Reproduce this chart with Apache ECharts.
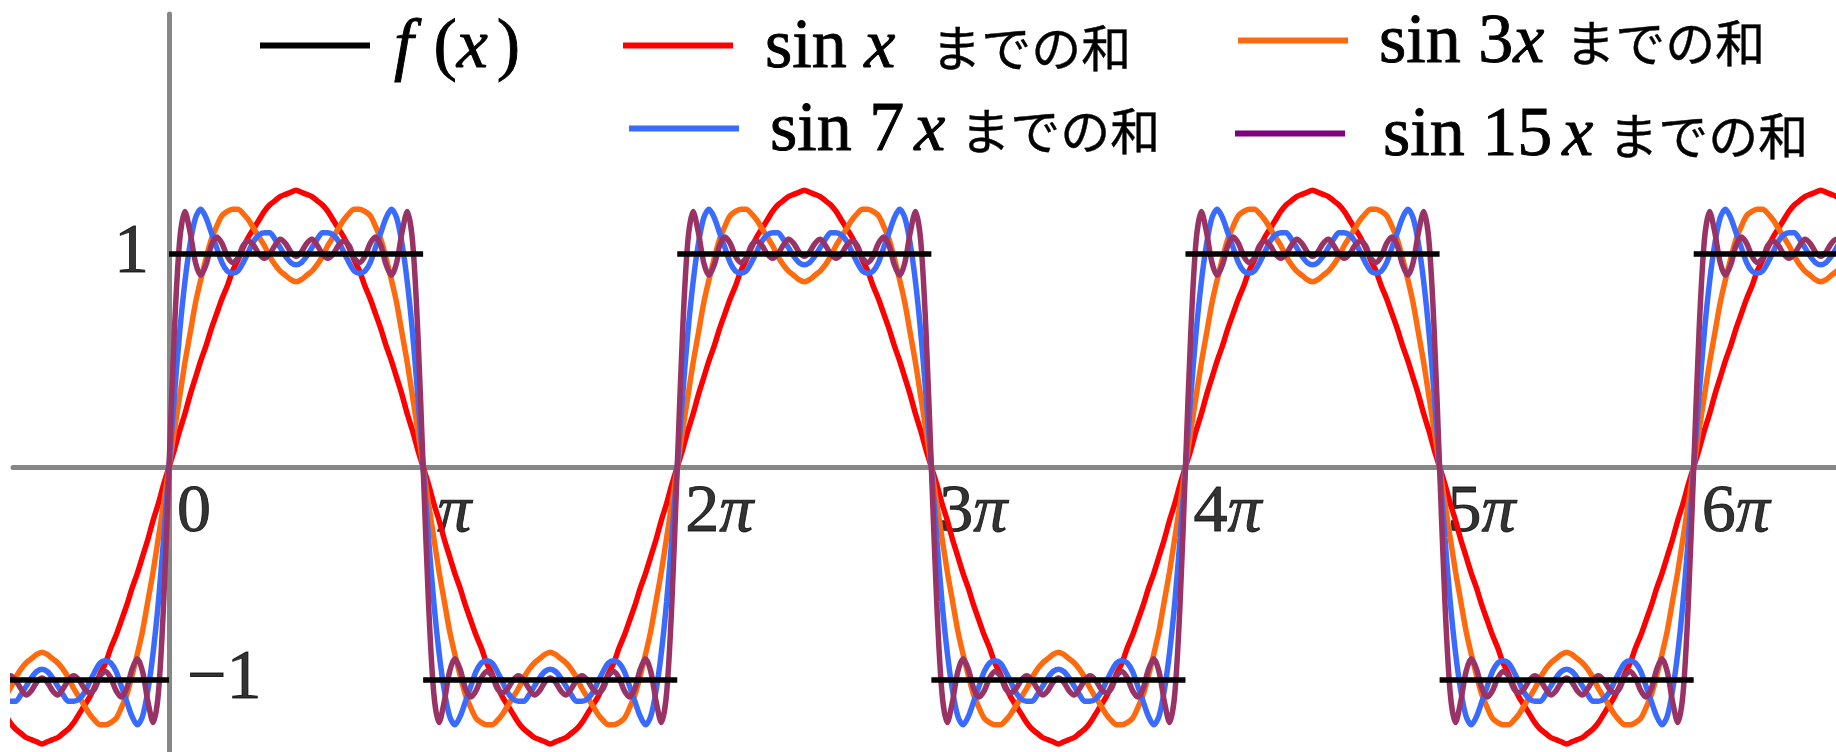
<!DOCTYPE html>
<html>
<head>
<meta charset="utf-8">
<script src="https://cdn.jsdelivr.net/npm/echarts@6/dist/echarts.min.js"></script>
<style>
  html, body { margin: 0; padding: 0; background: #ffffff; }
  #chart { width: 1836px; height: 752px; }
</style>
</head>
<body>
<div id="chart"></div>
<script>
// x is measured in units of π. Each partial sum is listed over one period
// (0 ≤ x < 2π) at samples spaced π/48 apart.
const SAMPLE_STEP = 1 / 48;

const sumToSin1 = [
  0, 0.08, 0.17, 0.25, 0.34, 0.42, 0.50, 0.57, 0.65, 0.72, 0.79, 0.85,
  0.92, 0.97, 1.03, 1.08, 1.12, 1.16, 1.20, 1.23, 1.25, 1.27, 1.28, 1.29,
  1.30, 1.29, 1.28, 1.27, 1.25, 1.23, 1.20, 1.16, 1.12, 1.08, 1.03, 0.97,
  0.92, 0.85, 0.79, 0.72, 0.65, 0.57, 0.50, 0.42, 0.34, 0.25, 0.17, 0.08,
  0, -0.08, -0.17, -0.25, -0.34, -0.42, -0.50, -0.57, -0.65, -0.72, -0.79, -0.85,
  -0.92, -0.97, -1.03, -1.08, -1.12, -1.16, -1.20, -1.23, -1.25, -1.27, -1.28, -1.29,
  -1.30, -1.29, -1.28, -1.27, -1.25, -1.23, -1.20, -1.16, -1.12, -1.08, -1.03, -0.97,
  -0.92, -0.85, -0.79, -0.72, -0.65, -0.57, -0.50, -0.42, -0.34, -0.25, -0.17, -0.08
];

const sumToSin3 = [
  0, 0.17, 0.33, 0.49, 0.63, 0.77, 0.88, 0.98, 1.07, 1.13, 1.18, 1.20,
  1.21, 1.21, 1.19, 1.16, 1.12, 1.08, 1.04, 0.99, 0.95, 0.92, 0.90, 0.88,
  0.87, 0.88, 0.90, 0.92, 0.95, 0.99, 1.04, 1.08, 1.12, 1.16, 1.19, 1.21,
  1.21, 1.20, 1.18, 1.13, 1.07, 0.98, 0.88, 0.77, 0.63, 0.49, 0.33, 0.17,
  0, -0.17, -0.33, -0.49, -0.63, -0.77, -0.88, -0.98, -1.07, -1.13, -1.18, -1.20,
  -1.21, -1.21, -1.19, -1.16, -1.12, -1.08, -1.04, -0.99, -0.95, -0.92, -0.90, -0.88,
  -0.87, -0.88, -0.90, -0.92, -0.95, -0.99, -1.04, -1.08, -1.12, -1.16, -1.19, -1.21,
  -1.21, -1.20, -1.18, -1.13, -1.07, -0.98, -0.88, -0.77, -0.63, -0.49, -0.33, -0.17
];

const sumToSin7 = [
  0, 0.33, 0.63, 0.87, 1.05, 1.17, 1.21, 1.17, 1.10, 1.03, 0.96, 0.92,
  0.91, 0.92, 0.96, 1.01, 1.06, 1.09, 1.10, 1.10, 1.07, 1.03, 0.99, 0.96,
  0.95, 0.96, 0.99, 1.03, 1.07, 1.10, 1.10, 1.09, 1.06, 1.01, 0.96, 0.92,
  0.91, 0.92, 0.96, 1.03, 1.10, 1.17, 1.21, 1.17, 1.05, 0.87, 0.63, 0.33,
  0, -0.33, -0.63, -0.87, -1.05, -1.17, -1.21, -1.17, -1.10, -1.03, -0.96, -0.92,
  -0.91, -0.92, -0.96, -1.01, -1.06, -1.09, -1.10, -1.10, -1.07, -1.03, -0.99, -0.96,
  -0.95, -0.96, -0.99, -1.03, -1.07, -1.10, -1.10, -1.09, -1.06, -1.01, -0.96, -0.92,
  -0.91, -0.92, -0.96, -1.03, -1.10, -1.17, -1.21, -1.17, -1.05, -0.87, -0.63, -0.33
];

const sumToSin15 = [
  0, 0.63, 1.06, 1.20, 1.10, 0.96, 0.90, 0.95, 1.04, 1.08, 1.05, 0.99,
  0.96, 0.98, 1.04, 1.06, 1.04, 1.00, 0.98, 1.00, 1.04, 1.07, 1.05, 1.01,
  0.99, 1.01, 1.05, 1.07, 1.04, 1.00, 0.98, 1.00, 1.04, 1.06, 1.04, 0.98,
  0.96, 0.99, 1.05, 1.08, 1.04, 0.95, 0.90, 0.96, 1.10, 1.20, 1.06, 0.63,
  0, -0.63, -1.06, -1.20, -1.10, -0.96, -0.90, -0.95, -1.04, -1.08, -1.05, -0.99,
  -0.96, -0.98, -1.04, -1.06, -1.04, -1.00, -0.98, -1.00, -1.04, -1.07, -1.05, -1.01,
  -0.99, -1.01, -1.05, -1.07, -1.04, -1.00, -0.98, -1.00, -1.04, -1.06, -1.04, -0.98,
  -0.96, -0.99, -1.05, -1.08, -1.04, -0.95, -0.90, -0.96, -1.10, -1.20, -1.06, -0.63
];

// Square wave f(x): [start, end, level], x in units of π
const squareWave = [
  [-1, 0, -1], [0, 1, 1], [1, 2, -1], [2, 3, 1],
  [3, 4, -1], [4, 5, 1], [5, 6, -1], [6, 7, 1]
];

const seriesNames = ['f(x)', 'sin x までの和', 'sin 3x までの和', 'sin 7x までの和', 'sin 15x までの和'];

const xTickValues = [0, 1, 2, 3, 4, 5, 6];
const xTickLabels = ['0', 'π', '2π', '3π', '4π', '5π', '6π'];
const yTickValues = [1, -1];
const yTickLabels = ['1', '\u22121'];

// ---------------------------------------------------------------------------

// the sums are 2π-periodic: repeat the listed period along the axis
const PERIODS = [-1, 0, 1, 2, 3];
function periodic(samples) {
  const pts = [];
  PERIODS.forEach(p => samples.forEach((v, k) => pts.push([2 * p + k * SAMPLE_STEP, v])));
  pts.push([2 * (PERIODS[PERIODS.length - 1] + 1), samples[0]]);
  return pts;
}

const stepData = [];
squareWave.forEach(([a, b, v]) => { stepData.push([a, v], [b, v], [b, '-']); });

const SERIF = 'Liberation Serif, Times New Roman, serif';
const CJK = 'Noto Sans CJK JP, sans-serif';
const LINE_H = 76;
const INK = { color: '#000', textBorderColor: '#000', textBorderWidth: 0.9 };

const serif = (extra) => Object.assign({ fontFamily: SERIF, fontSize: 70, lineHeight: LINE_H }, INK, extra || {});
const cjk = (pad) => Object.assign({ fontFamily: CJK, fontSize: 50, lineHeight: LINE_H, padding: [0, 0, 0, pad] }, INK, { textBorderWidth: 0.4 });

const legendRich = {
  t:  serif(),
  i:  serif({ fontStyle: 'italic' }),
  ip: serif({ fontStyle: 'italic', padding: [0, 0, 0, 10] }),
  pl: serif({ padding: [0, 0, 0, 20] }),
  pr: serif({ padding: [0, 0, 0, 9] }),
  jA: cjk(36),
  jB: cjk(15),
  jC: cjk(21)
};

const legendMarkup = {
  'f(x)': '{i|f}{pl|(}{i|x}{pr|)}',
  'sin x までの和': '{t|sin }{i|x}{jA|までの和}',
  'sin 3x までの和': '{t|sin 3}{i|x}{jC|までの和}',
  'sin 7x までの和': '{t|sin 7}{ip|x}{jB|までの和}',
  'sin 15x までの和': '{t|sin 15}{ip|x}{jB|までの和}'
};

const legendColors = ['#000000', '#ff0000', '#ff6a0e', '#3a6bff', '#800080'];
// icon left edge, icon centre height, gap before the text
const legendPlaces = [
  { left: 260, cy: 54, pad: 19 },
  { left: 623, cy: 54, pad: 27 },
  { left: 1238, cy: 49, pad: 26 },
  { left: 629, cy: 137, pad: 26 },
  { left: 1235, cy: 142, pad: 33 }
];
const TEXT_DROP = 6;

const legends = seriesNames.map((name, i) => ({
  data: [{ name, itemStyle: { color: legendColors[i] } }],
  left: legendPlaces[i].left,
  top: legendPlaces[i].cy - (LINE_H + TEXT_DROP) / 2,
  padding: 0,
  icon: 'rect',
  itemWidth: 110,
  itemHeight: 6,
  itemStyle: { borderWidth: 0 },
  selectedMode: false,
  formatter: n => legendMarkup[n],
  textStyle: { padding: [TEXT_DROP, 0, 0, legendPlaces[i].pad], rich: legendRich }
}));

const tickRich = {
  n: serif({ fontSize: 68, lineHeight: 72 }),
  p: serif({ fontSize: 68, lineHeight: 72, fontStyle: 'italic' }),
  p1: serif({ fontSize: 68, lineHeight: 72, fontStyle: 'italic', padding: [0, 0, 0, 6] })
};
const toRich = s => s === 'π'
  ? '{p1|π}'
  : s.split('').map(ch => ch === 'π' ? '{p|π}' : '{n|' + ch + '}').join('');

const curveStyle = (color, width) => ({
  type: 'line',
  showSymbol: false,
  symbol: 'none',
  smooth: 0.3,
  color,
  lineStyle: { color, width },
  animation: false
});

const option = {
  animation: false,
  backgroundColor: '#ffffff',
  legend: legends,
  grid: { left: 13, right: 0, top: 14, bottom: 0, containLabel: false },
  xAxis: {
    type: 'value', min: -0.614, max: 6.56,
    axisLine: { show: true, onZero: true, lineStyle: { color: '#878787', width: 5 } },
    axisTick: { show: false }, axisLabel: { show: false }, splitLine: { show: false }
  },
  yAxis: {
    type: 'value', min: -1.338, max: 2.127,
    axisLine: { show: true, onZero: true, lineStyle: { color: '#878787', width: 5 } },
    axisTick: { show: false }, axisLabel: { show: false }, splitLine: { show: false }
  },
  series: [
    {
      type: 'scatter', name: 'xTicks', silent: true, symbolSize: 2,
      itemStyle: { color: 'rgba(0,0,0,0)' },
      data: xTickValues.map((v, i) => ({ value: [v, 0], label: { formatter: toRich(xTickLabels[i]) } })),
      label: { show: true, position: [9, 47], align: 'left', verticalAlign: 'middle', rich: tickRich }
    },
    {
      type: 'scatter', name: 'yTicks', silent: true, symbolSize: 2,
      itemStyle: { color: 'rgba(0,0,0,0)' },
      data: yTickValues.map((v, i) => ({
        value: [0, v],
        label: { position: v > 0 ? 'left' : 'right', distance: v > 0 ? 19 : 17, formatter: yTickLabels[i] }
      })),
      label: Object.assign({ show: true, fontFamily: SERIF, fontSize: 70 }, INK)
    },
    Object.assign(curveStyle('#ff0000', 5.5), { name: seriesNames[1], data: periodic(sumToSin1) }),
    Object.assign(curveStyle('#ff6a0e', 5.5), { name: seriesNames[2], data: periodic(sumToSin3) }),
    Object.assign(curveStyle('#3a6bff', 5.5), { name: seriesNames[3], data: periodic(sumToSin7) }),
    Object.assign(curveStyle('#993366', 5.5), { name: seriesNames[4], data: periodic(sumToSin15) }),
    {
      type: 'line', name: seriesNames[0], data: stepData, showSymbol: false, symbol: 'none',
      connectNulls: false, color: '#000000', lineStyle: { color: '#000000', width: 5.5 }
    }
  ]
};

const chart = echarts.init(document.getElementById('chart'), null, { renderer: 'canvas' });
chart.setOption(option);
</script>
</body>
</html>
